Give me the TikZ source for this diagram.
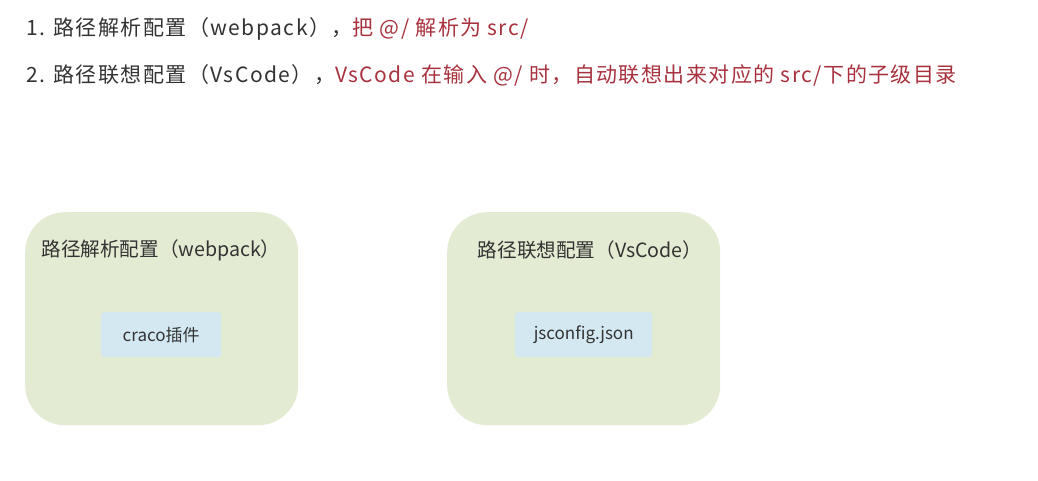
\documentclass[tikz,border=0pt]{standalone}
\usepackage{fontspec}
\setmainfont{Noto Sans CJK SC}
\newfontfamily\widefont[LetterSpace=7]{Noto Sans CJK SC}
\definecolor{txt}{HTML}{333333}
\definecolor{hl}{HTML}{A8323E}
\definecolor{grn}{HTML}{E3EBD3}
\definecolor{blu}{HTML}{D3E8F1}
\begin{document}
\begin{tikzpicture}[x=1pt,y=-1pt,
  line/.style={anchor=base west,inner sep=0pt,text=txt,font=\widefont\fontsize{21}{25}\selectfont},
  outer/.style={fill=grn,draw=none,rounded corners=40pt,minimum width=273pt,minimum height=213pt,anchor=north west,inner sep=0pt},
  title/.style={inner sep=0pt,text=txt,font=\fontsize{19.6}{23}\selectfont},
  inner/.style={fill=blu,draw=none,rounded corners=3pt,minimum height=45pt,anchor=north west,inner sep=0pt,text=txt,font=\fontsize{17}{20}\selectfont}]
\useasboundingbox (0,0) rectangle (1038,480);
\fill[white] (0,0) rectangle (1038,480);
\node[line] (l1) at (26,35) {1. 路径解析配置（webpack），\textcolor{hl}{把 @/ 解析为 src/}};
\node[line] (l2) at (26,82) {2. 路径联想配置（VsCode），\textcolor{hl}{VsCode 在输入 @/ 时，自动联想出来对应的 src/下的子级目录}};
\node[outer] (b1) at (25,212) {};
\node[outer] (b2) at (447,212) {};
\node[title] (t1) at (161,250) {路径解析配置（webpack）};
\node[title] (t2) at (590,250) {路径联想配置（VsCode）};
\node[inner,minimum width=120pt] (c1) at (101,312) {craco插件};
\node[inner,minimum width=137pt] (c2) at (515,312) {jsconfig.json};
\end{tikzpicture}
\end{document}
